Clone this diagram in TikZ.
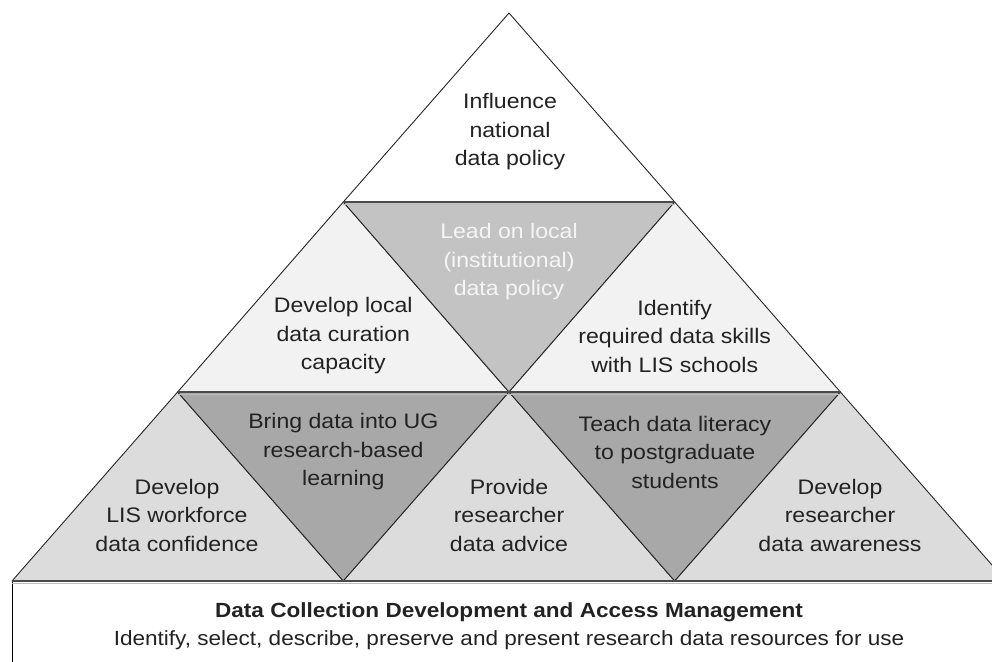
\documentclass[tikz,border=0pt]{standalone}
\usepackage{fontspec}
\setmainfont[FakeStretch=1.1]{Liberation Sans}
\definecolor{topc}{HTML}{FFFFFF}
\definecolor{rowtwo}{HTML}{F2F2F2}
\definecolor{leadc}{HTML}{C3C3C3}
\definecolor{rowthree}{HTML}{DCDCDC}
\definecolor{invthree}{HTML}{A8A8A8}
\definecolor{txt}{HTML}{222222}
\definecolor{hline}{HTML}{4A4A4A}
\definecolor{shadowc}{HTML}{BDBDBD}
\begin{document}
\begin{tikzpicture}[x=1pt,y=-1pt,
  tri/.style={draw=black!85, line width=0.9pt, line join=round},
  level/.style={draw=hline, line width=2.2pt},
  shade/.style={draw=shadowc, line width=1.2pt},
  lbl/.style={align=center, font=\fontsize{21}{28.5}\selectfont, text=txt, inner sep=0pt},
  wlbl/.style={lbl, text=white!96!black},
  titlelbl/.style={align=center, font=\bfseries\fontsize{20.5}{24}\selectfont, text=txt, inner sep=0pt},
  sublbl/.style={align=center, font=\fontsize{20.5}{24}\selectfont, text=txt, inner sep=0pt}]
\useasboundingbox (0,0) rectangle (992,661);
\clip (0,0) rectangle (992,661);
\fill[white] (0,0) rectangle (992,661);
% key points
\coordinate (A) at (509,13);
\coordinate (L1) at (343.3,202);
\coordinate (R1) at (674.7,202);
\coordinate (L2) at (177.6,392);
\coordinate (M2) at (509,392);
\coordinate (R2) at (840.4,392);
\coordinate (L3) at (12,581);
\coordinate (Ma) at (343.3,581);
\coordinate (Mb) at (674.7,581);
\coordinate (R3) at (1006,581);
% base box
\draw[fill=white, draw=black, line width=1pt] (12,581) rectangle (1020,700);
% row 1
\filldraw[tri, fill=topc] (A) -- (L1) -- (R1) -- cycle;
% row 2
\filldraw[tri, fill=rowtwo] (L1) -- (L2) -- (M2) -- cycle;
\filldraw[tri, fill=leadc] (L1) -- (R1) -- (M2) -- cycle;
\filldraw[tri, fill=rowtwo] (R1) -- (M2) -- (R2) -- cycle;
% row 3
\filldraw[tri, fill=rowthree] (L2) -- (L3) -- (Ma) -- cycle;
\filldraw[tri, fill=invthree] (L2) -- (M2) -- (Ma) -- cycle;
\filldraw[tri, fill=rowthree] (M2) -- (Ma) -- (Mb) -- cycle;
\filldraw[tri, fill=invthree] (M2) -- (R2) -- (Mb) -- cycle;
\filldraw[tri, fill=rowthree] (R2) -- (Mb) -- (R3) -- cycle;
% level lines with soft shadow
\draw[shade] ([yshift=-2.5pt]L1) -- ([yshift=-2.5pt]R1);
\draw[level] (L1) -- (R1);
\draw[shade] ([yshift=-2.5pt]L2) -- ([yshift=-2.5pt]R2);
\draw[level] (L2) -- (R2);
\draw[shade] ([yshift=-2.5pt]L3) -- ([yshift=-2.5pt]R3);
\draw[level] (L3) -- (R3);
% labels
\node[lbl] (natl) at (510,132) {Influence\\national\\data policy};
\node[wlbl] (lead) at (509,262) {Lead on local\\(institutional)\\data policy};
\node[lbl] (curation) at (343.3,336) {Develop local\\data curation\\capacity};
\node[lbl] (skills) at (674.7,336) {Identify\\required data skills\\with LIS schools};
\node[lbl] (ug) at (343.3,452) {Bring data into UG\\research-based\\learning};
\node[lbl] (pg) at (675,452) {Teach data literacy\\to postgraduate\\students};
\node[lbl] (lis) at (177,515) {Develop\\LIS workforce\\data confidence};
\node[lbl] (advice) at (509,515) {Provide\\researcher\\data advice};
\node[lbl] (aware) at (840,515) {Develop\\researcher\\data awareness};
\node[titlelbl] (title) at (509,612) {Data Collection Development and Access Management};
\node[sublbl] (sub) at (509,640) {Identify, select, describe, preserve and present research data resources for use};
\end{tikzpicture}
\end{document}
